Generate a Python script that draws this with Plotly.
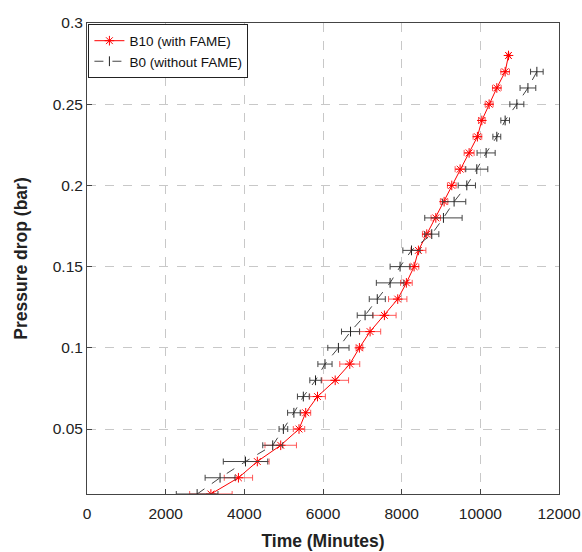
import plotly.graph_objects as go

# Pressure drop levels (bar)
y_b10 = [0.01, 0.02, 0.03, 0.04, 0.05, 0.06, 0.07, 0.08, 0.09, 0.10,
         0.11, 0.12, 0.13, 0.14, 0.15, 0.16, 0.17, 0.18, 0.19, 0.20,
         0.21, 0.22, 0.23, 0.24, 0.25, 0.26, 0.27, 0.28]
t_b10 = [3150, 3850, 4330, 4925, 5390, 5560, 5860, 6310, 6680, 6926,
         7197, 7561, 7900, 8120, 8316, 8426, 8638, 8868, 9079, 9274,
         9486, 9715, 9926, 10038, 10224, 10419, 10631, 10716]
e_b10 = [540, 360, 300, 400, 145, 127, 200, 340, 254, 85,
         270, 297, 233, 148, 119, 190, 110, 120, 95, 110,
         127, 127, 110, 85, 100, 110, 110, 40]

y_b0 = [0.01, 0.02, 0.03, 0.04, 0.05, 0.06, 0.07, 0.08, 0.09, 0.10,
        0.11, 0.12, 0.13, 0.14, 0.15, 0.16, 0.17, 0.18, 0.19, 0.20,
        0.21, 0.22, 0.23, 0.24, 0.25, 0.26, 0.27]
t_b0 = [2800, 3383, 4030, 4722, 4993, 5260, 5500, 5810, 6050, 6392,
        6700, 7070, 7380, 7706, 7960, 8250, 8765, 9062, 9333, 9656,
        9910, 10147, 10419, 10631, 10928, 11210, 11437]
e_b0 = [530, 380, 565, 254, 110, 160, 150, 145, 180, 270,
        230, 200, 204, 350, 254, 220, 180, 475, 297, 220,
        280, 230, 100, 110, 178, 200, 160]

x_ticks = [0, 2000, 4000, 6000, 8000, 10000, 12000]
x_tick_text = ["0", "2000", "4000", "6000", "8000", "10000", "12000"]
y_ticks = [0.05, 0.1, 0.15, 0.2, 0.25, 0.3]
y_tick_text = ["0.05", "0.1", "0.15", "0.2", "0.25", "0.3"]

fig = go.Figure()
fig.add_trace(go.Scatter(
    x=t_b10, y=y_b10, mode="lines+markers", name="B10 (with FAME)",
    line=dict(color="#ff0000", width=1),
    marker=dict(symbol="asterisk-open", size=8, color="#ff0000",
                line=dict(color="#ff0000", width=1)),
    error_x=dict(type="data", array=e_b10, visible=True,
                 color="rgba(255,60,60,0.85)", thickness=1, width=3),
))
fig.add_trace(go.Scatter(
    x=t_b0, y=y_b0, mode="lines+markers", name="B0 (without FAME)",
    line=dict(color="#444444", width=1, dash="dash"),
    marker=dict(symbol="line-ns-open", size=7, color="#222222",
                line=dict(color="#222222", width=1)),
    error_x=dict(type="data", array=e_b0, visible=True,
                 color="#444444", thickness=1, width=3),
))

font_family = "Liberation Sans, Arial, sans-serif"
fig.update_layout(
    width=582, height=552,
    margin=dict(l=87, r=23, t=23, b=58),
    paper_bgcolor="white", plot_bgcolor="white",
    font=dict(family=font_family, size=15.5, color="#222222"),
    showlegend=True,
    legend=dict(x=0.003, y=0.997, xanchor="left", yanchor="top",
                bgcolor="white", bordercolor="#222222", borderwidth=1,
                font=dict(size=13.5, color="#111111"),
                tracegroupgap=0, itemwidth=30),
    xaxis=dict(range=[0, 12000], tickvals=x_ticks, ticktext=x_tick_text,
               showgrid=True, gridcolor="#c8c8c8", griddash="dash", gridwidth=1,
               zeroline=False, showline=True, linecolor="#444444", linewidth=1,
               mirror=True, ticks="inside", ticklen=5, tickcolor="#444444",
               tickfont=dict(size=15.5), ticklabelstandoff=5,
               title=dict(text="<b>Time (Minutes)</b>", font=dict(size=17.5), standoff=14),
               automargin=False),
    yaxis=dict(range=[0.01, 0.3], tickvals=y_ticks, ticktext=y_tick_text,
               showgrid=True, gridcolor="#c8c8c8", griddash="dash", gridwidth=1,
               zeroline=False, showline=True, linecolor="#444444", linewidth=1,
               mirror=True, ticks="inside", ticklen=5, tickcolor="#444444",
               tickfont=dict(size=15.5),
               title=dict(text="<b>Pressure drop (bar)</b>", font=dict(size=17.5), standoff=20),
               automargin=False),
)

fig.write_html("out.html")
